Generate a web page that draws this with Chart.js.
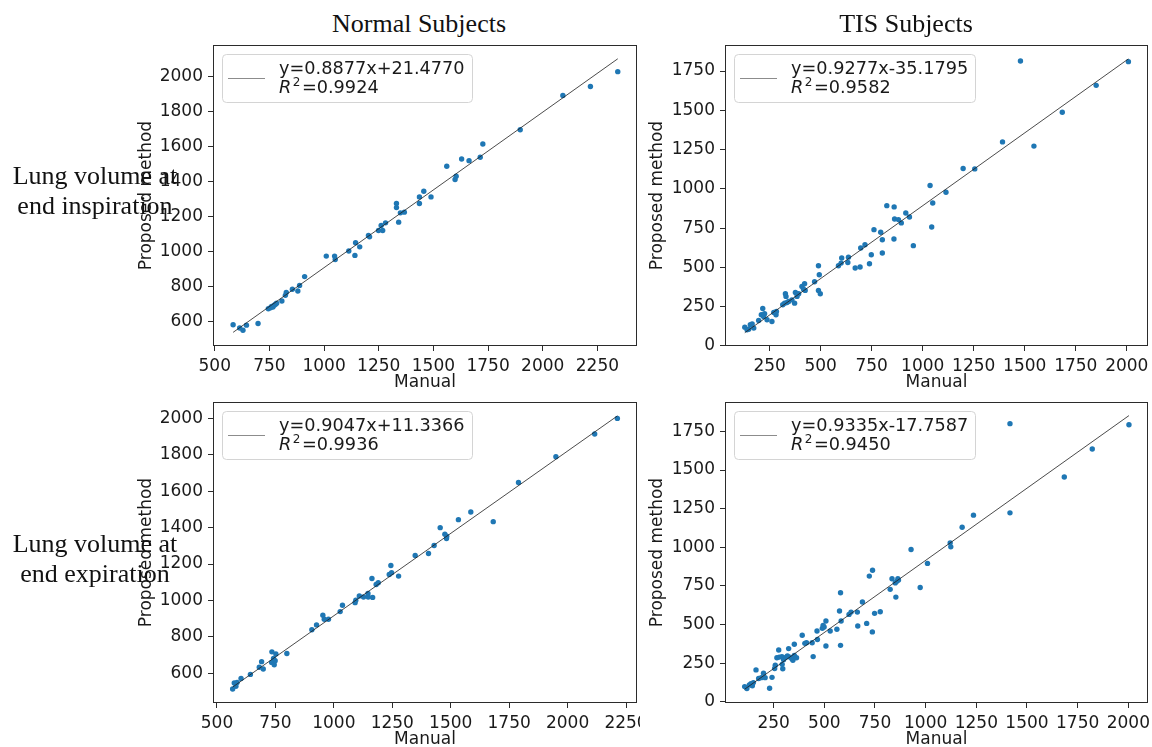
<!DOCTYPE html>
<html>
<head>
<meta charset="utf-8">
<script src="https://cdn.jsdelivr.net/npm/chart.js@4.4.1/dist/chart.umd.min.js"></script>
<style>
  html, body { margin:0; padding:0; background:#fff; }
  body { width:1152px; height:747px; overflow:hidden; position:relative; }
  canvas { position:absolute; }
  .ttl { position:absolute; font-family:"Liberation Serif", serif; font-size:26px; line-height:30px;
         color:#111; text-align:center; white-space:nowrap; z-index:5; }
  .row { position:absolute; font-family:"Liberation Serif", serif; font-size:26px; line-height:29.5px;
         color:#111; text-align:center; white-space:nowrap; z-index:5; left:0; width:190px; }
</style>
</head>
<body>
<canvas id="c1" width="518" height="360" style="left:130px;top:40px"></canvas>
<canvas id="c2" width="512" height="360" style="left:640px;top:40px;background:#fff"></canvas>
<canvas id="c3" width="518" height="360" style="left:130px;top:397px"></canvas>
<canvas id="c4" width="512" height="360" style="left:640px;top:397px;background:#fff"></canvas>

<div class="ttl" style="left:269px;width:300px;top:9px">Normal Subjects</div>
<div class="ttl" style="left:756px;width:300px;top:9px">TIS Subjects</div>
<div class="row" style="top:161px">Lung volume at<br>end inspiration</div>
<div class="row" style="top:529px">Lung volume at<br>end expiration</div>

<script>
// ---------- tick labels ----------
const xTicksNormal = [500, 750, 1000, 1250, 1500, 1750, 2000, 2250];
const yTicksNormal = [600, 800, 1000, 1200, 1400, 1600, 1800, 2000];
const xTicksTIS = [250, 500, 750, 1000, 1250, 1500, 1750, 2000];
const yTicksTIS = [0, 250, 500, 750, 1000, 1250, 1500, 1750];

// ---------- Normal subjects, end inspiration ----------
const normInspManual = [584,614,629,645,698,745,755,760,766,772,778,783,807,823,827,855,880,888,911,1010,1048,1051,1113,1141,1144,1163,1203,1208,1249,1261,1268,1281,1331,1331,1341,1349,1367,1436,1436,1456,1489,1561,1599,1604,1629,1663,1714,1726,1897,2092,2218,2343];
const normInspProposed = [583,565,552,581,590,675,680,688,684,695,700,706,719,751,767,786,776,808,858,975,975,956,1004,979,1051,1028,1093,1085,1121,1150,1121,1165,1275,1252,1169,1222,1226,1313,1275,1345,1313,1488,1412,1431,1529,1520,1539,1615,1696,1892,1943,2028];
const normInspFitX = [584, 2343];
const normInspFitY = [539.9, 2101.3];
const normInspEq = "y=0.8877x+21.4770";
const normInspR2 = "0.9924";

// ---------- TIS subjects, end inspiration ----------
const tisInspManual = [128,139,147,155,164,172,196,209,216,220,225,237,261,270,281,283,314,323,327,330,335,343,359,372,376,384,392,408,416,421,424,470,489,489,493,498,587,600,603,633,636,669,693,696,717,739,748,761,794,802,802,824,859,860,862,881,895,917,935,954,1036,1044,1049,1114,1198,1255,1391,1479,1545,1684,1850,2008];
const tisInspProposed = [119,102,106,134,140,113,161,198,238,187,204,166,155,213,198,219,262,272,332,315,276,283,293,272,340,315,332,378,361,395,353,408,510,353,453,332,510,527,559,531,565,496,502,623,644,523,580,740,723,591,676,893,680,885,808,804,783,846,821,638,1021,757,910,978,1129,1127,1299,1814,1272,1488,1659,1810];
const tisInspFitX = [128, 2008];
const tisInspFitY = [83.6, 1827.6];
const tisInspEq = "y=0.9277x-35.1795";
const tisInspR2 = "0.9582";

// ---------- Normal subjects, end expiration ----------
const normExpManual = [567,574,581,586,603,643,681,691,698,734,735,742,745,749,752,799,906,926,953,959,977,1027,1037,1091,1094,1109,1127,1146,1147,1163,1166,1181,1190,1237,1244,1247,1277,1348,1405,1429,1455,1475,1482,1483,1533,1586,1682,1790,1950,2116,2213];
const normExpProposed = [514,547,529,550,572,594,633,664,624,660,718,682,647,669,706,709,839,866,919,897,897,939,974,988,1001,1025,1019,1039,1019,1121,1017,1088,1097,1143,1192,1152,1134,1247,1258,1302,1400,1364,1340,1353,1444,1486,1433,1648,1790,1914,2000];
const normExpFitX = [567, 2213];
const normExpFitY = [524.3, 2013.4];
const normExpEq = "y=0.9047x+11.3366";
const normExpR2 = "0.9936";

// ---------- TIS subjects, end expiration ----------
const tisExpManual = [107,118,130,138,145,150,163,176,189,200,208,230,242,255,258,266,275,278,291,292,295,299,312,318,324,330,340,345,352,352,363,391,404,412,440,445,464,466,490,494,499,508,508,529,562,575,580,580,583,622,632,663,665,688,709,722,737,738,748,776,825,834,850,853,858,863,866,928,973,1009,1121,1124,1180,1236,1416,1416,1684,1822,2003];
const tisExpProposed = [99,86,110,118,105,125,207,151,157,185,157,88,159,216,237,286,336,290,293,243,215,273,290,297,345,290,280,270,300,373,286,431,379,383,383,293,459,404,476,494,485,362,523,459,470,588,706,366,523,566,581,581,491,646,508,814,453,852,573,583,728,797,770,678,780,797,788,986,740,896,1029,1003,1130,1208,1223,1800,1455,1636,1793];
const tisExpFitX = [107, 2003];
const tisExpFitY = [82.1, 1852.0];
const tisExpEq = "y=0.9335x-17.7587";
const tisExpR2 = "0.9450";

// ---------- plugins ----------
const framePlugin = {
  id: 'frame',
  afterDatasetsDraw(chart) {
    const {ctx, chartArea: a} = chart;
    ctx.save();
    ctx.strokeStyle = '#2b2b2b';
    ctx.lineWidth = 1;
    ctx.strokeRect(Math.round(a.left) + 0.5, Math.round(a.top) + 0.5,
                   Math.round(a.right - a.left) - 1, Math.round(a.bottom - a.top) - 1);
    ctx.restore();
  }
};

const fitLegendPlugin = {
  id: 'fitLegend',
  afterDraw(chart, args, opts) {
    const {ctx, chartArea: {left, top}} = chart;
    const F = '17.7px "DejaVu Sans"', FI = 'italic 17.7px "DejaVu Sans"', FS = '12px "DejaVu Sans"';
    ctx.save();
    const tx = left + 66;
    ctx.font = F;  const w1 = ctx.measureText(opts.eq).width;
    ctx.font = FI; const wR = ctx.measureText('R').width;
    ctx.font = FS; const w2 = ctx.measureText('2').width;
    ctx.font = F;  const w3 = ctx.measureText('=' + opts.r2).width;
    const textW = Math.max(w1, wR + w2 + 3 + w3);
    const bx = Math.round(left + 9) + 0.5, by = Math.round(top + 9) + 0.5;
    const bw = Math.round(tx + textW + 7.5 - bx), bh = 48;
    ctx.beginPath();
    if (ctx.roundRect) ctx.roundRect(bx, by, bw, bh, 4); else ctx.rect(bx, by, bw, bh);
    ctx.fillStyle = 'rgba(255,255,255,0.8)';
    ctx.fill();
    ctx.strokeStyle = '#d4d4d4';
    ctx.lineWidth = 1;
    ctx.stroke();
    ctx.beginPath();
    ctx.moveTo(left + 15, Math.round(top + 33) + 0.5);
    ctx.lineTo(left + 52, Math.round(top + 33) + 0.5);
    ctx.strokeStyle = '#8c8c8c';
    ctx.stroke();
    ctx.fillStyle = '#1a1a1a';
    ctx.textAlign = 'left';
    ctx.textBaseline = 'alphabetic';
    ctx.font = F;  ctx.fillText(opts.eq, tx, top + 29);
    ctx.font = FI; ctx.fillText('R', tx, top + 48);
    ctx.font = FS; ctx.fillText('2', tx + wR + 1.5, top + 40.5);
    ctx.font = F;  ctx.fillText('=' + opts.r2, tx + wR + w2 + 3, top + 48);
    ctx.restore();
  }
};

// ---------- chart builder ----------
const TICK_FONT = {family: '"DejaVu Sans"', size: 17};
function makePanel(id, manual, proposed, fitX, fitY, eq, r2, xTicks, yTicks, xMin, xMax, yMin, yMax, isLeft) {
  const points = manual.map((v, i) => ({x: v, y: proposed[i]}));
  const fit = fitX.map((v, i) => ({x: v, y: fitY[i]}));
  const yWidth = isLeft ? 83 : 85;
  const yTitlePad = isLeft ? 6 : 7;
  return new Chart(document.getElementById(id), {
    data: {
      datasets: [
        {type: 'line', label: eq, data: fit, borderColor: 'rgba(30,30,30,0.8)', borderWidth: 1,
         pointRadius: 0, fill: false, tension: 0},
        {type: 'scatter', label: 'data', data: points, backgroundColor: '#1f77b4',
         borderWidth: 0, pointRadius: 2.7, pointHoverRadius: 2.7}
      ]
    },
    options: {
      responsive: false,
      animation: false,
      events: [],
      layout: {padding: {top: 5, right: isLeft ? 11 : 4, left: 0, bottom: 0}},
      plugins: {
        legend: {display: false},
        tooltip: {enabled: false},
        fitLegend: {eq: eq, r2: r2}
      },
      scales: {
        x: {
          type: 'linear', min: xMin, max: xMax,
          afterBuildTicks: s => { s.ticks = xTicks.map(v => ({value: v})); },
          afterFit: s => { s.height = 54; s.paddingLeft = 0; s.paddingRight = 0; s.paddingTop = 0; s.paddingBottom = 0; },
          ticks: {font: TICK_FONT, color: '#1a1a1a', padding: 5, maxRotation: 0, autoSkip: false,
                  callback: v => String(v)},
          grid: {drawOnChartArea: false, drawTicks: true, tickLength: 5, color: '#2b2b2b'},
          border: {display: false},
          title: {display: true, text: 'Manual', font: TICK_FONT, color: '#1a1a1a',
                  padding: {top: 0, bottom: 7}}
        },
        y: {
          type: 'linear', min: yMin, max: yMax,
          afterBuildTicks: s => { s.ticks = yTicks.map(v => ({value: v})); },
          afterFit: s => { s.width = yWidth; s.paddingTop = 0; s.paddingBottom = 0; s.paddingLeft = 0; s.paddingRight = 0; },
          ticks: {font: TICK_FONT, color: '#1a1a1a', padding: 5, autoSkip: false,
                  callback: v => String(v)},
          grid: {drawOnChartArea: false, drawTicks: true, tickLength: 5, color: '#2b2b2b'},
          border: {display: false},
          title: {display: true, text: 'Proposed method', font: TICK_FONT, color: '#1a1a1a',
                  padding: {top: yTitlePad, bottom: 0}}
        }
      }
    },
    plugins: [framePlugin, fitLegendPlugin]
  });
}

makePanel('c1', normInspManual, normInspProposed, normInspFitX, normInspFitY, normInspEq, normInspR2,
          xTicksNormal, yTicksNormal, 492, 2431, 462, 2180, true);
makePanel('c2', tisInspManual, tisInspProposed, tisInspFitX, tisInspFitY, tisInspEq, tisInspR2,
          xTicksTIS, yTicksTIS, 31, 2104, -1, 1916, false);
makePanel('c3', normExpManual, normExpProposed, normExpFitX, normExpFitY, normExpEq, normExpR2,
          xTicksNormal, yTicksNormal, 483, 2297, 437, 2090, true);
makePanel('c4', tisExpManual, tisExpProposed, tisExpFitX, tisExpFitY, tisExpEq, tisExpR2,
          xTicksTIS, yTicksTIS, 10, 2097, -7, 1940, false);
</script>
</body>
</html>
